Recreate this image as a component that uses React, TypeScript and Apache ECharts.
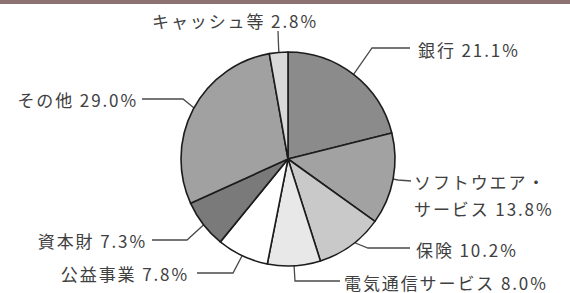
import React, { useEffect, useRef } from "react";
import * as echarts from "echarts";

const categories = ["銀行", "ソフトウエア・サービス", "保険", "電気通信サービス", "公益事業", "資本財", "その他", "キャッシュ等"];
const shares = [21.1, 13.8, 10.2, 8.0, 7.8, 7.3, 29.0, 2.8];
const sliceColors = ["#8b8b8b", "#a2a2a2", "#c9c9c9", "#e8e8e8", "#ffffff", "#7a7a7a", "#a1a1a1", "#d9d9d9"];

const CENTER: [number, number] = [288, 159];
const RADIUS = 107;

// label layout (positions only)
const labelLayouts = [
  { x: 418, y: 49, align: "left", bend: [372, 48], end: [410, 48] },
  { x: 414, y: 195, align: "left", bend: [398, 180], end: [411, 181] },
  { x: 416, y: 249, align: "left", bend: [368, 248], end: [410, 248] },
  { x: 344, y: 282, align: "left", bend: [295, 281], end: [340, 281] },
  { x: 189, y: 273, align: "right", bend: [233, 273], end: [197, 273] },
  { x: 147, y: 240, align: "right", bend: [187, 240], end: [152, 240] },
  { x: 138, y: 99, align: "right", bend: [183, 99], end: [142, 99] },
  { x: 235, y: 20, align: "center", bend: [278.5, 45], end: [278, 31] },
];

export default function App() {
  const ref = useRef<HTMLDivElement>(null);
  useEffect(() => {
    if (!ref.current) return;
    const chart = echarts.init(ref.current, undefined, { renderer: "svg" });
    chart.setOption({
      animation: false,
      backgroundColor: "#ffffff",
      graphic: [
        {
          type: "rect",
          shape: { x: 0, y: 0, width: 570, height: 4 },
          style: { fill: "#8d7272" },
          silent: true,
        },
      ],
      series: [
        {
          type: "pie",
          center: CENTER,
          radius: RADIUS,
          startAngle: 90,
          clockwise: true,
          avoidLabelOverlap: false,
          data: categories.map((name, i) => ({
            name,
            value: shares[i],
            itemStyle: { color: sliceColors[i] },
          })),
          itemStyle: { borderColor: "#1c1c1c", borderWidth: 1.6 },
          label: {
            show: true,
            position: "outside",
            color: "#404040",
            fontSize: 17,
            lineHeight: 27,
            fontFamily: "'Noto Sans CJK JP', sans-serif",
            formatter: (p: any) =>
              `${String(p.name).replace("・", "・\n")} ${Number(p.value).toFixed(1)}%`,
          },
          labelLine: {
            show: true,
            length: 10,
            length2: 10,
            smooth: false,
            lineStyle: { color: "#4a4a4a", width: 1.3 },
          },
          labelLayout: (params: any) => {
            const lay = labelLayouts[params.dataIndex];
            const pts = params.labelLinePoints;
            let anchor = [CENTER[0], CENTER[1]];
            if (pts && pts[0]) {
              const dx = pts[0][0] - CENTER[0];
              const dy = pts[0][1] - CENTER[1];
              const len = Math.sqrt(dx * dx + dy * dy) || 1;
              anchor = [CENTER[0] + (dx / len) * RADIUS * 0.93, CENTER[1] + (dy / len) * RADIUS * 0.93];
            }
            return {
              x: lay.x,
              y: lay.y,
              align: lay.align,
              verticalAlign: "middle",
              labelLinePoints: [anchor, lay.bend, lay.end],
            };
          },
          emphasis: { disabled: true },
        },
      ],
    });
    return () => chart.dispose();
  }, []);
  return (
    <>
      <style>{`body{margin:0} .pie-chart text{letter-spacing:1.9px}`}</style>
      <div
        className="pie-chart"
        ref={ref}
        style={{ position: "fixed", left: 0, top: 0, width: 570, height: 293 }}
      />
    </>
  );
}
